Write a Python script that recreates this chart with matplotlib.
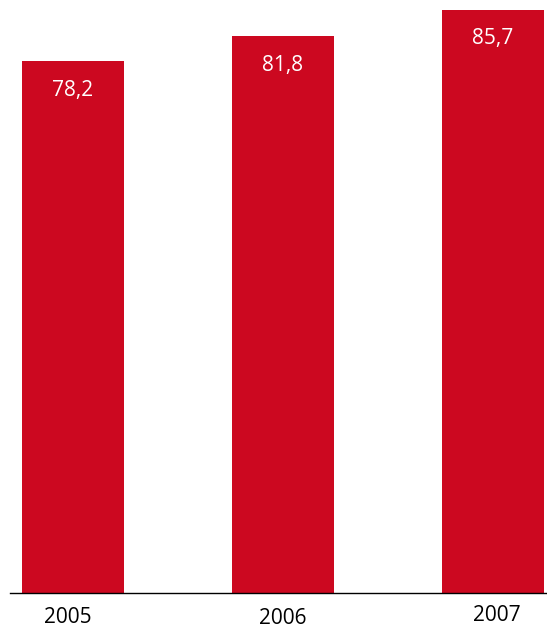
import matplotlib.pyplot as plt

years = ['2005', '2006', '2007']
values = [78.2, 81.8, 85.7]
value_labels = ['78,2', '81,8', '85,7']

# small nudges of the year labels (points), as in the original layout
year_dx = [-3.5, 0, 3]
year_dy = [0, -0.8, 1.5]

fig = plt.figure(figsize=(5.47, 6.28), dpi=100)
ax = fig.add_axes([10 / 547, 35 / 628, 537 / 547, 593 / 628])

xs = range(len(years))
ax.bar(xs, values, width=0.486, color='#cc0820')

for x, v, lab in zip(xs, values, value_labels):
    ax.annotate(lab, (x, v), xytext=(0, -21), textcoords='offset points',
                ha='center', va='center', color='white', fontsize=15,
                family='Open Sans')

for x, yr, dx, dy in zip(xs, years, year_dx, year_dy):
    ax.annotate(yr, (x, 0), xytext=(dx, -17.5 + dy), textcoords='offset points',
                ha='center', va='center', color='black', fontsize=15,
                family='Open Sans')

ax.set_xlim(-0.3, 2.257)
ax.set_ylim(0, 87.14)
for s in ['top', 'right', 'left']:
    ax.spines[s].set_visible(False)
ax.spines['bottom'].set_linewidth(1.0)
ax.set_xticks([])
ax.set_yticks([])

fig.savefig('out.png', dpi=100)
